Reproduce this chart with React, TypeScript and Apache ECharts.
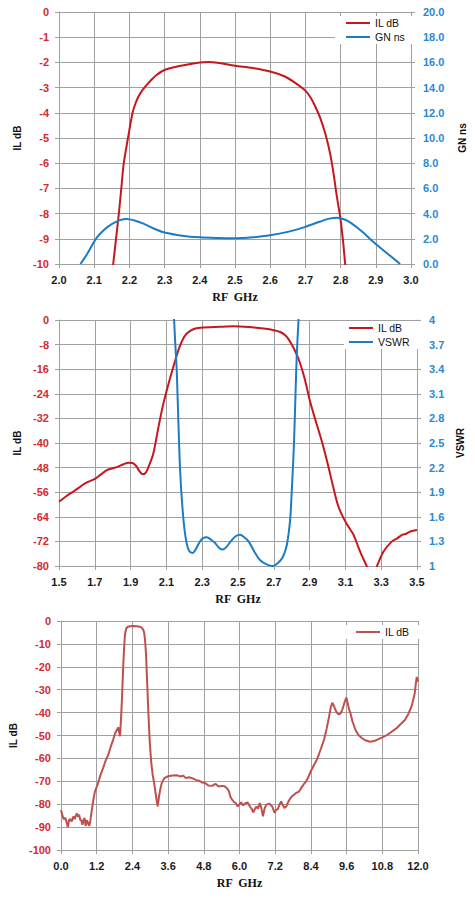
import React, { useEffect, useRef } from "react";
import * as echarts from "echarts";

// ---------- Chart 1: IL dB & group delay (GN ns) vs RF GHz ----------
const C1_X_TICKS = { min: 2.0, max: 3.0, step: 0.1 };
const C1_IL: [number, number][] = [
  [2.148, -10.8], [2.154, -10], [2.162, -9], [2.17, -8], [2.177, -7], [2.184, -6],
  [2.196, -5], [2.209, -4], [2.218, -3.6], [2.226, -3.35], [2.236, -3.12], [2.249, -2.9],
  [2.262, -2.7], [2.277, -2.5], [2.3, -2.3], [2.347, -2.13], [2.4, -2.0], [2.425, -1.98],
  [2.45, -2.01], [2.5, -2.13], [2.55, -2.22], [2.6, -2.36], [2.64, -2.55], [2.67, -2.8],
  [2.7, -3.12], [2.715, -3.4], [2.728, -3.75], [2.742, -4.2], [2.756, -4.8], [2.766, -5.35],
  [2.774, -5.9], [2.782, -6.6], [2.788, -7.2], [2.795, -7.8], [2.8, -8.25], [2.807, -9.1],
  [2.813, -10], [2.818, -10.7],
];
const C1_GN: [number, number][] = [
  [2.061, 0], [2.08, 0.8], [2.105, 2.0], [2.13, 2.75], [2.151, 3.18], [2.175, 3.5],
  [2.193, 3.58], [2.215, 3.45], [2.24, 3.2], [2.27, 2.8], [2.3, 2.5], [2.35, 2.25],
  [2.4, 2.12], [2.45, 2.07], [2.5, 2.05], [2.55, 2.12], [2.6, 2.28], [2.65, 2.55],
  [2.7, 2.95], [2.74, 3.35], [2.765, 3.58], [2.79, 3.68], [2.81, 3.55], [2.83, 3.25],
  [2.86, 2.6], [2.895, 1.7], [2.93, 0.9], [2.969, 0],
];

// ---------- Chart 2: IL dB & VSWR vs RF GHz ----------
const C2_IL: [number, number][] = [
  [1.5, -59.1], [1.54, -57.3], [1.58, -55.8], [1.61, -54.6], [1.645, -53.1], [1.7, -51.7],
  [1.735, -50.2], [1.767, -48.8], [1.8, -48.2], [1.83, -47.7], [1.86, -46.9], [1.888, -46.4],
  [1.91, -46.5], [1.93, -47.4], [1.95, -49.2], [1.968, -50.2], [1.985, -49.6], [2.0, -47.8],
  [2.027, -43.4], [2.055, -35], [2.083, -27.2], [2.12, -19], [2.145, -14], [2.167, -9.8],
  [2.19, -6.5], [2.214, -4.4], [2.25, -3.0], [2.29, -2.5], [2.4, -2.2], [2.475, -2.05],
  [2.56, -2.3], [2.643, -2.8], [2.7, -3.3], [2.736, -3.9], [2.762, -4.9], [2.782, -6.2],
  [2.81, -9], [2.838, -12.6], [2.87, -18.5], [2.903, -26.6], [2.935, -33], [2.969, -39.6],
  [3.0, -46.5], [3.034, -54.8], [3.06, -60.5], [3.09, -64.5], [3.12, -67.5], [3.146, -69.9],
  [3.17, -73.5], [3.19, -76.4], [3.215, -79.5], [3.23, -81.5], [3.25, -84], [3.265, -82],
  [3.28, -79.5], [3.313, -75.3], [3.36, -72], [3.39, -71], [3.416, -69.9], [3.44, -69.5],
  [3.463, -68.8], [3.5, -68.3],
];
const C2_VSWR: [number, number][] = [
  [2.133, 4.6], [2.143, 4.0], [2.15, 3.7], [2.158, 3.37], [2.167, 2.75], [2.177, 2.15],
  [2.19, 1.7], [2.205, 1.38], [2.22, 1.22], [2.233, 1.17], [2.247, 1.16], [2.26, 1.19],
  [2.275, 1.25], [2.288, 1.3], [2.305, 1.34], [2.326, 1.35], [2.35, 1.32], [2.372, 1.28],
  [2.395, 1.22], [2.415, 1.2], [2.435, 1.23], [2.456, 1.29], [2.485, 1.36], [2.512, 1.38],
  [2.535, 1.35], [2.559, 1.3], [2.59, 1.18], [2.624, 1.07], [2.66, 1.02], [2.695, 1.0],
  [2.72, 1.03], [2.745, 1.09], [2.76, 1.16], [2.773, 1.26], [2.783, 1.4], [2.792, 1.58],
  [2.8, 1.9], [2.81, 2.35], [2.818, 2.85], [2.825, 3.37], [2.832, 3.75], [2.838, 4.0],
  [2.846, 4.6],
];

// ---------- Chart 3: wideband IL dB vs RF GHz ----------
const C3_IL: [number, number][] = [
  [0.0, -82.5], [0.05, -85], [0.09, -86.5], [0.15, -86], [0.23, -90], [0.27, -87],
  [0.31, -86.5], [0.36, -87.5], [0.42, -85.3], [0.46, -86.5], [0.53, -84], [0.58, -85.5],
  [0.61, -84.6], [0.65, -87], [0.68, -86.8], [0.72, -89], [0.76, -87], [0.79, -86],
  [0.83, -89.5], [0.87, -87], [0.9, -88], [0.95, -89.5], [0.99, -87], [1.03, -83],
  [1.09, -78], [1.14, -74.5], [1.23, -71.5], [1.32, -67.5], [1.42, -64], [1.5, -61],
  [1.585, -58.5], [1.67, -55], [1.75, -52], [1.82, -49], [1.9, -47], [1.93, -46.5],
  [1.96, -49], [1.985, -50.3], [2.02, -42], [2.05, -33.8], [2.09, -20], [2.12, -12],
  [2.15, -6], [2.19, -3.3], [2.25, -2.5], [2.31, -2.3], [2.45, -2.2], [2.55, -2.3],
  [2.65, -2.5], [2.72, -3], [2.77, -4], [2.8, -5.5], [2.83, -9], [2.86, -15],
  [2.9, -28], [2.94, -41], [2.98, -52], [3.03, -61.4], [3.08, -67], [3.14, -71.5],
  [3.2, -77], [3.25, -81], [3.29, -77], [3.33, -74], [3.38, -71], [3.47, -68.6],
  [3.6, -67.8], [3.75, -67.5], [3.9, -67.4], [4.02, -67.9], [4.1, -67.5], [4.2, -68.6],
  [4.3, -68.2], [4.41, -68.6], [4.55, -69.5], [4.65, -69.8], [4.74, -70.5], [4.85, -70.8],
  [4.95, -71.8], [5.08, -72], [5.19, -71.1], [5.3, -72.3], [5.41, -72], [5.5, -72.2],
  [5.58, -73], [5.65, -74.5], [5.69, -76.6], [5.75, -78], [5.8, -78.8], [5.87, -79.5],
  [5.94, -81], [6.0, -80], [6.05, -79.2], [6.12, -80.5], [6.18, -79.8], [6.27, -79.2],
  [6.35, -81], [6.41, -82], [6.46, -83.6], [6.52, -82], [6.57, -81], [6.62, -82],
  [6.68, -79.5], [6.73, -81.5], [6.79, -85.3], [6.84, -82], [6.9, -80.2], [7.01, -79.8],
  [7.1, -81], [7.18, -83.8], [7.23, -82.5], [7.29, -82.1], [7.35, -80], [7.4, -78.8],
  [7.46, -80.5], [7.51, -81.7], [7.57, -81], [7.62, -79.5], [7.68, -78], [7.74, -76.9],
  [7.82, -76], [7.9, -75.1], [8.0, -74.5], [8.07, -73], [8.15, -71.5], [8.24, -70],
  [8.32, -68], [8.4, -65.5], [8.5, -63], [8.62, -60], [8.73, -56], [8.84, -51.9],
  [8.93, -47], [9.01, -41.8], [9.07, -37.5], [9.12, -35.7], [9.17, -37], [9.23, -39],
  [9.29, -40.3], [9.34, -40.8], [9.4, -40.3], [9.45, -38.9], [9.52, -36], [9.59, -33.4],
  [9.64, -36], [9.68, -38.5], [9.73, -40.3], [9.8, -44], [9.9, -47.6], [10.0, -49.8],
  [10.12, -51.2], [10.25, -52.2], [10.4, -52.7], [10.55, -52.3], [10.67, -51.6], [10.8, -50.8],
  [10.95, -49.8], [11.1, -48.5], [11.28, -46.8], [11.42, -45], [11.56, -43.2], [11.68, -40.5],
  [11.78, -37.4], [11.85, -34], [11.89, -31.6], [11.93, -27], [11.96, -24.4], [12.0, -26.5],
];

const RED = "#C8161D";
const BLUE = "#1B7CC6";
const RED3 = "#C0504D";
const LABEL_RED = "#D42A30";
const LABEL_BLUE = "#2B88D2";
const GRID = "#A0A0A0";
const SANS = "Liberation Sans, Arial, sans-serif";
const SERIF = "Liberation Serif, Times New Roman, serif";

const axisCommon = {
  axisLine: { show: true, onZero: false, lineStyle: { color: GRID, width: 1 } },
  axisTick: { show: true, inside: false, length: 4, lineStyle: { color: GRID, width: 1 } },
};

function xAxis(gridIndex: number, min: number, max: number, interval: number) {
  return {
    type: "value",
    gridIndex,
    min,
    max,
    interval,
    name: "RF  GHz",
    nameLocation: "middle",
    nameGap: 27,
    nameTextStyle: { fontFamily: SERIF, fontWeight: "bold", fontSize: 12, color: "#111" },
    ...axisCommon,
    axisLabel: {
      margin: 10,
      fontFamily: SANS,
      fontWeight: "bold",
      fontSize: 11,
      color: "#1a1a1a",
      formatter: (v: number) => v.toFixed(1),
    },
    splitLine: { show: true, lineStyle: { color: GRID, width: 1 } },
  };
}

function yLeft(gridIndex: number, min: number, max: number, interval: number, nameGap: number) {
  return {
    type: "value",
    gridIndex,
    position: "left",
    min,
    max,
    interval,
    name: "IL dB",
    nameLocation: "middle",
    nameRotate: 90,
    nameGap,
    nameTextStyle: { fontFamily: SANS, fontWeight: "bold", fontSize: 10, color: "#111" },
    ...axisCommon,
    axisLabel: { margin: 10, fontFamily: SANS, fontWeight: "bold", fontSize: 11, color: LABEL_RED },
    splitLine: { show: true, lineStyle: { color: GRID, width: 1 } },
  };
}

function yRight(
  gridIndex: number,
  name: string,
  min: number,
  max: number,
  interval: number,
  nameGap: number,
  fmt: (v: number) => string
) {
  return {
    type: "value",
    gridIndex,
    position: "right",
    min,
    max,
    interval,
    name,
    nameLocation: "middle",
    nameRotate: 90,
    nameGap,
    nameTextStyle: { fontFamily: SANS, fontWeight: "bold", fontSize: 10, color: "#111" },
    ...axisCommon,
    axisLabel: { margin: 12, fontFamily: SANS, fontWeight: "bold", fontSize: 11, color: LABEL_BLUE, formatter: fmt },
    splitLine: { show: false },
  };
}

function line(name: string, data: [number, number][], xi: number, yi: number, color: string, smooth: number | boolean) {
  return {
    type: "line",
    name,
    data,
    xAxisIndex: xi,
    yAxisIndex: yi,
    showSymbol: false,
    symbol: "none",
    smooth,
    clip: true,
    lineStyle: { color, width: 2 },
    itemStyle: { color },
    emphasis: { disabled: true },
  };
}

function legend(left: number, top: number, padding: number[], items: { name: string; color: string }[]) {
  return {
    orient: "vertical",
    left,
    top,
    padding,
    backgroundColor: "#ffffff",
    itemWidth: 24,
    itemHeight: 2,
    itemGap: 0,
    icon: "rect",
    selectedMode: false,
    textStyle: { fontFamily: SANS, fontSize: 10.5, color: "#111", lineHeight: 14 },
    data: items.map((it) => ({ name: it.name, itemStyle: { color: it.color } })),
  };
}

export default function App() {
  const ref = useRef<HTMLDivElement>(null);
  useEffect(() => {
    if (!ref.current) return;
    const chart = echarts.init(ref.current, undefined, { renderer: "svg" });
    chart.setOption({
      animation: false,
      backgroundColor: "#ffffff",
      grid: [
        { left: 59, top: 12, width: 359, height: 252, containLabel: false },
        { left: 59, top: 320, width: 358, height: 246, containLabel: false },
        { left: 57, top: 621, width: 361, height: 229, containLabel: false },
      ],
      xAxis: [
        xAxis(0, C1_X_TICKS.min, C1_X_TICKS.max, C1_X_TICKS.step),
        xAxis(1, 1.5, 3.5, 0.2),
        xAxis(2, 0, 12, 1.2),
      ],
      yAxis: [
        yLeft(0, -10, 0, 1, 28),
        yRight(0, "GN ns", 0, 20, 2, 46, (v: number) => v.toFixed(1)),
        yLeft(1, -80, 0, 8, 34),
        yRight(1, "VSWR", 1, 4, 0.3, 33, (v: number) => String(Math.round(v * 10) / 10)),
        yLeft(2, -100, 0, 10, 43),
      ],
      legend: [
        legend(335, 16, [0, 14, 0, 11], [
          { name: "IL dB", color: RED },
          { name: "GN ns", color: BLUE },
        ]),
        legend(344, 321, [0, 12, 0, 5], [
          { name: "IL dB", color: RED },
          { name: "VSWR", color: BLUE },
        ]),
        legend(346, 625, [0, 26, 0, 10], [{ name: "IL dB", color: RED3 }]),
      ],
      series: [
        line("IL dB", C1_IL, 0, 0, RED, 0.3),
        line("GN ns", C1_GN, 0, 1, BLUE, 0.3),
        line("IL dB", C2_IL, 1, 2, RED, 0.3),
        line("VSWR", C2_VSWR, 1, 3, BLUE, 0.3),
        line("IL dB", C3_IL, 2, 4, RED3, false),
      ],
    });
    return () => chart.dispose();
  }, []);
  return (
    <div
      ref={ref}
      style={{ position: "absolute", left: 0, top: 0, width: 475, height: 898, background: "#fff" }}
    />
  );
}
